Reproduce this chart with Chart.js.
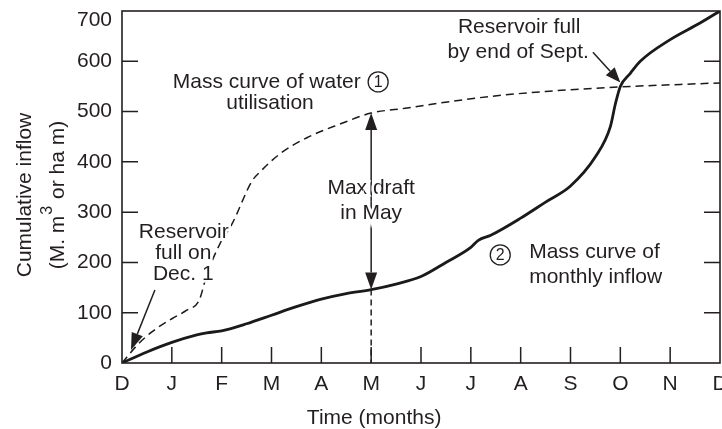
<!DOCTYPE html>
<html>
<head>
<meta charset="utf-8">
<script src="https://cdn.jsdelivr.net/npm/chart.js@4"></script>
<style>
  html, body { margin: 0; padding: 0; background: #fff; }
  canvas { display: block; }
</style>
</head>
<body>
<canvas id="massChart" width="722" height="429"></canvas>
<script>
// month labels along the time axis (Dec to Dec)
const months = ["D", "J", "F", "M", "A", "M", "J", "J", "A", "S", "O", "N", "D"];
const yTicks = [0, 100, 200, 300, 400, 500, 600, 700];

// (2) mass curve of monthly inflow - time in months from Dec 1
const inflowMonths = [0, 0.5, 1, 1.5, 1.7, 2, 2.5, 3, 3.5, 4, 4.5, 5, 5.5, 6, 6.5, 7, 7.15, 7.4, 8, 8.5, 9, 9.5, 9.8, 9.9, 10, 10.2, 10.4, 11, 11.6, 12];
const inflowValues = [0, 22, 41, 56, 60, 64, 78, 95, 112, 127, 138, 146, 157, 172, 200, 230, 244, 254, 288, 320, 352, 410, 470, 515, 550, 576, 600, 643, 676, 700];

// (1) mass curve of water utilisation
const useMonths = [0, 0.3, 0.6, 1, 1.3, 1.55, 1.7, 1.97, 2.21, 2.61, 2.77, 3.17, 3.71, 4.37, 5, 5.72, 6.38, 7.38, 8.5, 10, 12];
const useValues = [0, 35, 62, 88, 105, 125, 175, 238, 277, 362, 380, 416, 448, 475, 497, 507, 517, 530, 540, 549, 557];

const mayMonth = 5;
const FONT = "'Liberation Sans', Arial, sans-serif";
const INK = "#231f20";
const yMax = yTicks[yTicks.length - 1];

function pts(xs, ys) { return xs.map((m, i) => ({ x: m, y: ys[i] })); }

function arrow(ctx, x1, y1, x2, y2, len, half) {
  const a = Math.atan2(y2 - y1, x2 - x1);
  const bx = x2 - len * Math.cos(a), by = y2 - len * Math.sin(a);
  ctx.beginPath();
  ctx.moveTo(x1, y1);
  ctx.lineTo(bx, by);
  ctx.stroke();
  ctx.beginPath();
  ctx.moveTo(x2, y2);
  ctx.lineTo(bx + half * Math.sin(a), by - half * Math.cos(a));
  ctx.lineTo(bx - half * Math.sin(a), by + half * Math.cos(a));
  ctx.closePath();
  ctx.fill();
}

function label(ctx, text, x, y, align) {
  ctx.textAlign = align || "center";
  ctx.textBaseline = "middle";
  ctx.lineWidth = 5;
  ctx.strokeStyle = "#fff";
  ctx.strokeText(text, x, y);
  ctx.fillText(text, x, y);
}

function circled(ctx, n, x, y) {
  ctx.save();
  ctx.fillStyle = "#fff";
  ctx.beginPath();
  ctx.arc(x, y, 10, 0, Math.PI * 2);
  ctx.fill();
  ctx.lineWidth = 1.3;
  ctx.strokeStyle = INK;
  ctx.stroke();
  ctx.fillStyle = INK;
  ctx.font = "16px " + FONT;
  ctx.textAlign = "center";
  ctx.textBaseline = "middle";
  ctx.fillText(n, x, y + 1);
  ctx.restore();
}

// box, inside ticks, annotations and axis titles
const decorations = {
  id: "decorations",
  afterDraw(chart) {
    const { ctx, chartArea: ca, scales } = chart;
    const X = v => scales.x.getPixelForValue(v);
    const Y = v => scales.y.getPixelForValue(v);
    ctx.save();
    ctx.strokeStyle = INK;
    ctx.fillStyle = INK;

    ctx.lineWidth = 1.6;
    ctx.strokeRect(ca.left, ca.top, ca.right - ca.left, ca.bottom - ca.top);

    ctx.lineWidth = 1.5;
    ctx.beginPath();
    yTicks.slice(1, -1).forEach(v => {
      ctx.moveTo(ca.left, Y(v)); ctx.lineTo(ca.left + 16, Y(v));
      ctx.moveTo(ca.right, Y(v)); ctx.lineTo(ca.right - 16, Y(v));
    });
    for (let m = 1; m < months.length - 1; m++) {
      ctx.moveTo(X(m), ca.bottom); ctx.lineTo(X(m), ca.bottom - 16);
    }
    ctx.stroke();

    // top tick label sits a little below the frame
    ctx.font = "21px " + FONT;
    ctx.textAlign = "right";
    ctx.textBaseline = "middle";
    ctx.fillText(String(yMax), ca.left - 10, Y(yMax) + 9);

    // max draft in May
    const lowV = inflowValues[inflowMonths.indexOf(mayMonth)];
    const highV = useValues[useMonths.indexOf(mayMonth)];
    const xm = X(mayMonth);
    ctx.lineWidth = 1.5;
    ctx.setLineDash([6, 4]);
    ctx.beginPath();
    ctx.moveTo(xm, Y(lowV)); ctx.lineTo(xm, Y(0));
    ctx.stroke();
    ctx.setLineDash([]);
    const mid = (Y(lowV) + Y(highV)) / 2;
    arrow(ctx, xm, mid, xm, Y(highV), 17, 6);
    arrow(ctx, xm, mid, xm, Y(lowV), 17, 6);

    // pointer arrows
    arrow(ctx, X(0.66), Y(145), X(0.18), Y(26), 17, 6);
    arrow(ctx, X(9.45), Y(618), X(10.0), Y(558), 15, 6);

    ctx.font = "21px " + FONT;
    ctx.fillStyle = INK;
    label(ctx, "Mass curve of water", X(1.02), Y(559), "left");
    label(ctx, "utilisation", X(2.97), Y(517));
    label(ctx, "Reservoir full", X(7.97), Y(668));
    label(ctx, "by end of Sept.", X(7.95), Y(618));
    label(ctx, "Reservoir", X(1.24), Y(260));
    label(ctx, "full on", X(1.23), Y(219));
    label(ctx, "Dec. 1", X(1.23), Y(177));
    label(ctx, "Max draft", xm, Y(348));
    label(ctx, "in May", xm, Y(298));
    label(ctx, "Mass curve of", X(8.17), Y(221), "left");
    label(ctx, "monthly inflow", X(8.17), Y(171), "left");
    circled(ctx, "1", X(5.14), Y(559));
    circled(ctx, "2", X(7.59), Y(215));

    // axis titles
    ctx.fillStyle = INK;
    ctx.textBaseline = "middle";
    ctx.textAlign = "center";
    ctx.fillText("Time (months)", X(5.06), 418);

    ctx.save();
    ctx.translate(25, 195);
    ctx.rotate(-Math.PI / 2);
    ctx.fillText("Cumulative inflow", 0, 0);
    ctx.restore();

    ctx.save();
    ctx.translate(58, 195);
    ctx.rotate(-Math.PI / 2);
    const a = "(M. m", b = " or ha m)";
    const wa = ctx.measureText(a).width, wb = ctx.measureText(b).width;
    ctx.font = "16px " + FONT;
    const ws = ctx.measureText("3").width + 2;
    const start = -(wa + ws + wb) / 2;
    ctx.textAlign = "left";
    ctx.fillText("3", start + wa + 1, -10);
    ctx.font = "21px " + FONT;
    ctx.fillText(a, start, 0);
    ctx.fillText(b, start + wa + ws, 0);
    ctx.restore();

    ctx.restore();
  }
};

new Chart(document.getElementById("massChart"), {
  type: "line",
  data: {
    datasets: [
      {
        label: "Mass curve of monthly inflow",
        data: pts(inflowMonths, inflowValues),
        borderColor: "#1a1a1a",
        borderWidth: 2.8,
        pointRadius: 0,
        cubicInterpolationMode: "monotone",
        fill: false
      },
      {
        label: "Mass curve of water utilisation",
        data: pts(useMonths, useValues),
        borderColor: "#1a1a1a",
        borderWidth: 1.5,
        borderDash: [8, 5],
        pointRadius: 0,
        cubicInterpolationMode: "monotone",
        fill: false
      }
    ]
  },
  options: {
    responsive: false,
    animation: false,
    layout: { padding: { left: 0, right: 2, top: 11, bottom: 0 } },
    plugins: { legend: { display: false }, tooltip: { enabled: false } },
    scales: {
      x: {
        type: "linear",
        min: 0,
        max: 12,
        grid: { display: false, drawTicks: false },
        border: { display: false },
        ticks: {
          stepSize: 1,
          padding: 9,
          color: INK,
          font: { family: FONT, size: 21 },
          maxRotation: 0,
          autoSkip: false,
          callback: v => months[v]
        },
        afterFit: s => { s.height = 66; s.paddingLeft = 0; s.paddingRight = 0; }
      },
      y: {
        min: 0,
        max: yMax,
        grid: { display: false, drawTicks: false },
        border: { display: false },
        ticks: {
          stepSize: 100,
          padding: 10,
          color: INK,
          font: { family: FONT, size: 21 },
          callback: v => (yTicks.includes(v) && v !== yMax) ? String(v) : ""
        },
        afterFit: s => { s.width = 122; s.paddingTop = 0; s.paddingBottom = 0; }
      }
    }
  },
  plugins: [decorations]
});
</script>
</body>
</html>
